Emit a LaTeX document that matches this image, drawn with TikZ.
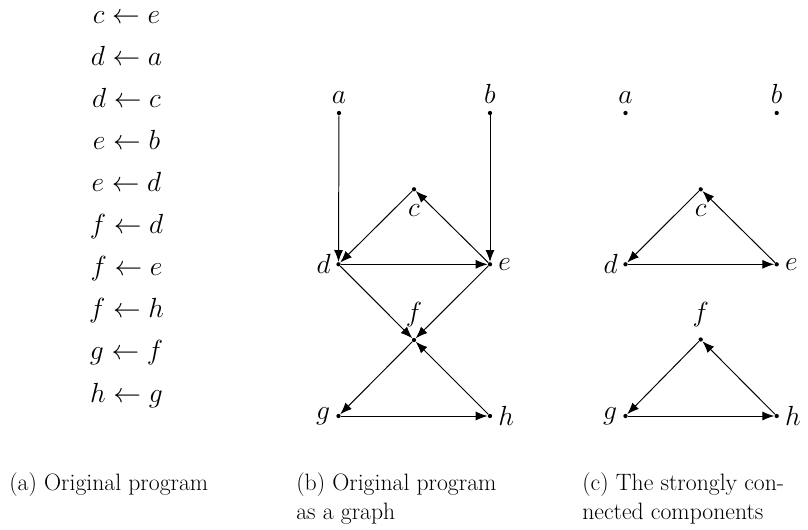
\documentclass[tikz,border=0pt]{standalone}
\usepackage{fix-cm}
\usetikzlibrary{arrows.meta}
\begin{document}
\begin{tikzpicture}[x=0.6329pt,y=-0.6329pt,
  vdot/.style={circle,fill,inner sep=0pt,minimum size=2.7pt},
  conn/.style={line width=0.62pt,-{Latex[length=7.5pt,width=5.7pt]}},
  big/.style={font=\fontsize{17.5}{21}\selectfont, inner sep=0pt},
  captext/.style={font=\fontsize{15}{18}\selectfont, inner sep=0pt, anchor=base west},
  every label/.style={big}]
\useasboundingbox (0,0) rectangle (808,529);
% (a) program
\foreach \t [count=\i from 0] in {c\leftarrow e, d\leftarrow a, d\leftarrow c, e\leftarrow b, e\leftarrow d, f\leftarrow d, f\leftarrow e, f\leftarrow h, g\leftarrow f, h\leftarrow g}
  \node[big,anchor=base] (p\i) at (126.5,{23+42.12*\i}) {$\t$};
% (b) graph
\node[vdot,label={[label distance=4.4pt]above:$a$}] (ba) at (339,113) {};
\node[vdot,label={[label distance=4.4pt]above:$b$}] (bb) at (490,113) {};
\node[vdot,label={[label distance=8pt]below:$c$}] (bc) at (414,189.3) {};
\node[vdot,label={[label distance=3.2pt]left:$d$}] (bd) at (338.5,264.3) {};
\node[vdot,label={[label distance=3.6pt]right:$e$}] (be) at (490,264.3) {};
\node[vdot,label={[label distance=6.5pt]above:$f$}] (bf) at (414,340) {};
\node[vdot,label={[label distance=3.6pt]left:$g$}] (bg) at (338.5,416) {};
\node[vdot,label={[label distance=3.6pt]right:$h$}] (bh) at (490,416) {};
\draw[conn] (ba) -- (bd);
\draw[conn] (bb) -- (be);
\draw[conn] (be) -- (bc);
\draw[conn] (bc) -- (bd);
\draw[conn] (bd) -- (be);
\draw[conn] (bd) -- (bf);
\draw[conn] (be) -- (bf);
\draw[conn] (bh) -- (bf);
\draw[conn] (bf) -- (bg);
\draw[conn] (bg) -- (bh);
% (c) components
\node[vdot,label={[label distance=4.4pt]above:$a$}] (ca) at (625.5,113) {};
\node[vdot,label={[label distance=4.4pt]above:$b$}] (cb) at (776.7,113) {};
\node[vdot,label={[label distance=8pt]below:$c$}] (cc) at (700.7,189.3) {};
\node[vdot,label={[label distance=3.2pt]left:$d$}] (cd) at (625.5,264.3) {};
\node[vdot,label={[label distance=3.6pt]right:$e$}] (ce) at (776.7,264.3) {};
\node[vdot,label={[label distance=6.5pt]above:$f$}] (cf) at (700.7,339.5) {};
\node[vdot,label={[label distance=3.6pt]left:$g$}] (cg) at (625.5,416) {};
\node[vdot,label={[label distance=3.6pt]right:$h$}] (ch) at (776.7,416) {};
\draw[conn] (ce) -- (cc);
\draw[conn] (cc) -- (cd);
\draw[conn] (cd) -- (ce);
\draw[conn] (ch) -- (cf);
\draw[conn] (cf) -- (cg);
\draw[conn] (cg) -- (ch);
% captions
\node[captext] (capa) at (9,490.5) {(a) Original program};
\node[captext] (capb1) at (296,490.5) {(b) Original program};
\node[captext] (capb2) at (296,519) {as a graph};
\node[captext] (capc1) at (582,490.5) {(c) The strongly con-};
\node[captext] (capc2) at (582,519) {nected components};
\end{tikzpicture}
\end{document}
